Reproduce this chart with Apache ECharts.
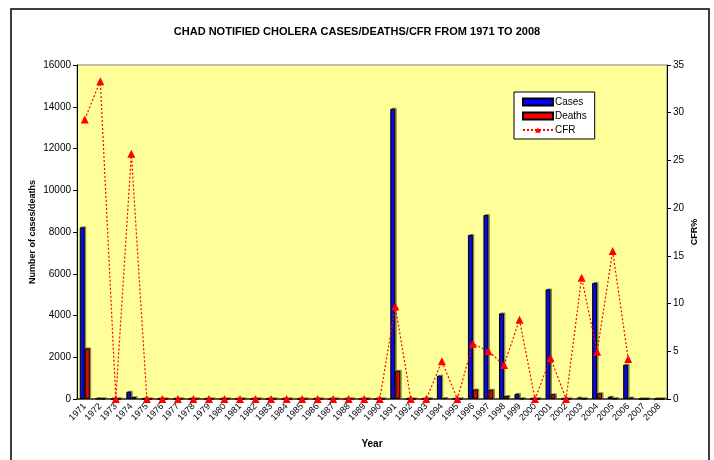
<!DOCTYPE html>
<html>
<head>
<meta charset="utf-8">
<script src="https://cdn.jsdelivr.net/npm/echarts@6/dist/echarts.min.js"></script>
<style>
  html, body { margin: 0; padding: 0; background: #fff; }
  #chart { width: 714px; height: 460px; }
</style>
</head>
<body>
<div id="chart"></div>
<script>
// values
const years = ['1971','1972','1973','1974','1975','1976','1977','1978','1979','1980',
  '1981','1982','1983','1984','1985','1986','1987','1988','1989','1990',
  '1991','1992','1993','1994','1995','1996','1997','1998','1999','2000',
  '2001','2002','2003','2004','2005','2006','2007','2008']

const cases = [8225, 30, 0, 350, 0, 0, 0, 0, 0, 0,
  0, 0, 0, 0, 0, 0, 0, 0, 0, 0,
  13910, 0, 0, 1115, 0, 7860, 8815, 4100, 245, 0,
  5250, 0, 70, 5560, 110, 1645, 0, 0]

const deaths = [2425, 10, 0, 90, 0, 0, 0, 0, 0, 0,
  0, 0, 0, 0, 0, 0, 0, 0, 0, 0,
  1355, 0, 0, 44, 0, 455, 445, 145, 20, 0,
  228, 0, 9, 275, 17, 69, 0, 0]

const cfr = [29.3, 33.3, 0, 25.7, 0, 0, 0, 0, 0, 0,
  0, 0, 0, 0, 0, 0, 0, 0, 0, 0,
  9.7, 0, 0, 3.95, 0, 5.8, 5.0, 3.55, 8.3, 0,
  4.3, 0, 12.7, 4.95, 15.5, 4.2, null, null]

const leftTicks = { min: 0, max: 16000, interval: 2000 }
const rightTicks = { min: 0, max: 35, interval: 5 }

const font = 'Liberation Sans, Arial, sans-serif'
const chart = echarts.init(document.getElementById('chart'))

const barStyle = (color) => ({
  color: color,
  borderColor: '#000',
  borderWidth: 1,
  shadowColor: 'rgba(60,60,0,0.45)',
  shadowOffsetX: 1.5,
  shadowOffsetY: -1
})

const option = {
  backgroundColor: '#fff',
  animation: false,
  textStyle: { fontFamily: font },
  title: {
    text: 'CHAD NOTIFIED CHOLERA CASES/DEATHS/CFR FROM 1971 TO 2008',
    left: 'center',
    top: 21,
    textStyle: { fontSize: 11, fontWeight: 'bold', color: '#000', fontFamily: font }
  },
  graphic: [{
    type: 'rect',
    shape: { x: 11, y: 9, width: 698, height: 470 },
    style: { fill: 'none', stroke: '#000', lineWidth: 1.5 },
    silent: true
  }],
  legend: {
    orient: 'vertical',
    left: 514,
    top: 92,
    itemGap: 4,
    itemWidth: 30,
    itemHeight: 7,
    padding: [5, 8, 4, 8],
    backgroundColor: '#fff',
    borderColor: '#000',
    borderWidth: 1,
    borderRadius: 0,
    textStyle: { fontSize: 10, color: '#000', padding: [0, 0, 0, -3] },
    data: [
      { name: 'Cases', icon: 'rect' },
      { name: 'Deaths', icon: 'rect' },
      { name: 'CFR' }
    ]
  },
  grid: {
    left: 77,
    right: 47,
    top: 65,
    bottom: 61,
    show: true,
    backgroundColor: '#FFFF99',
    borderColor: '#808080',
    borderWidth: 1
  },
  xAxis: {
    type: 'category',
    data: years,
    name: 'Year',
    nameLocation: 'middle',
    nameGap: 40,
    nameMoveOverlap: false,
    nameTextStyle: { fontSize: 10, fontWeight: 'bold', color: '#000' },
    axisLine: { lineStyle: { color: '#333', width: 1.5 } },
    axisTick: { length: 4, lineStyle: { color: '#000' } },
    axisLabel: { rotate: 45, fontSize: 9, color: '#000', margin: 6, interval: 0 }
  },
  yAxis: [
    {
      type: 'value',
      ...leftTicks,
      name: 'Number of cases/deaths',
      nameLocation: 'middle',
      nameRotate: 90,
      nameGap: 40,
      nameMoveOverlap: false,
      nameTextStyle: { fontSize: 9, fontWeight: 'bold', color: '#000' },
      axisLine: { show: true, lineStyle: { color: '#000' } },
      axisTick: { show: true, length: 4, lineStyle: { color: '#000' } },
      axisLabel: { fontSize: 10, color: '#000', margin: 6, formatter: (v) => String(v) },
      splitLine: { show: false }
    },
    {
      type: 'value',
      ...rightTicks,
      name: 'CFR%',
      nameLocation: 'middle',
      nameRotate: 90,
      nameGap: 23,
      nameMoveOverlap: false,
      nameTextStyle: { fontSize: 9, fontWeight: 'bold', color: '#000' },
      axisLine: { show: true, lineStyle: { color: '#000' } },
      axisTick: { show: true, length: 4, lineStyle: { color: '#000' } },
      axisLabel: { fontSize: 10, color: '#000', margin: 6 },
      splitLine: { show: false }
    }
  ],
  series: [
    {
      name: 'Cases',
      type: 'bar',
      data: cases,
      barWidth: 5,
      barGap: '0%',
      itemStyle: barStyle('#0000FF')
    },
    {
      name: 'Deaths',
      type: 'bar',
      data: deaths,
      barWidth: 5,
      barGap: '0%',
      itemStyle: barStyle('#FF0000')
    },
    {
      name: 'CFR',
      type: 'line',
      yAxisIndex: 1,
      data: cfr,
      connectNulls: false,
      symbol: 'triangle',
      symbolSize: 8,
      lineStyle: { color: '#FF0000', width: 1.2, type: [2, 2] },
      itemStyle: { color: '#FF0000' }
    }
  ]
}

chart.setOption(option)
</script>
</body>
</html>
